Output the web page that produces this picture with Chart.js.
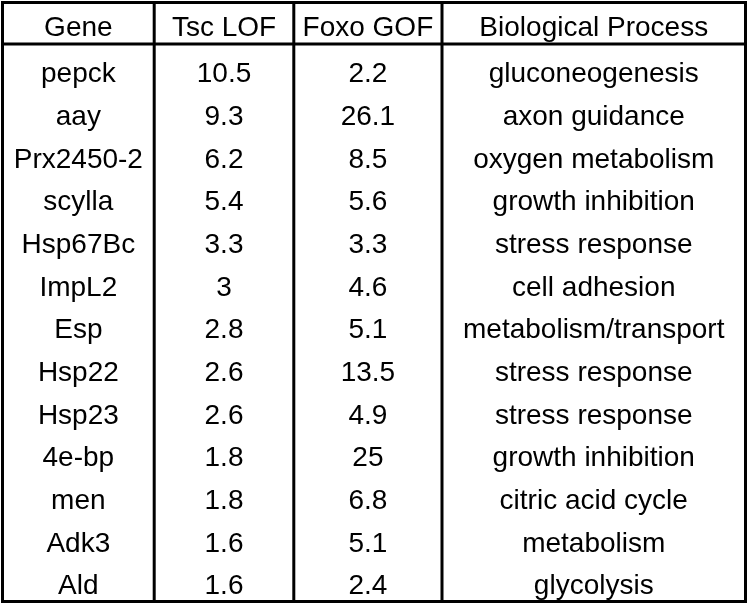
<!DOCTYPE html>
<html>
<head>
<meta charset="utf-8">
<script src="https://cdn.jsdelivr.net/npm/chart.js@4/dist/chart.umd.min.js"></script>
<style>
  html, body { margin: 0; padding: 0; background: #fff; overflow: hidden; }
  canvas { display: block; }
</style>
</head>
<body>
<canvas id="geneTable" width="748" height="604"></canvas>
<script>
// table contents
const headers = ['Gene', 'Tsc LOF', 'Foxo GOF', 'Biological Process'];
const genes = ['pepck', 'aay', 'Prx2450-2', 'scylla', 'Hsp67Bc', 'ImpL2', 'Esp',
    'Hsp22', 'Hsp23', '4e-bp', 'men', 'Adk3', 'Ald'];
const tscLOF = [10.5, 9.3, 6.2, 5.4, 3.3, 3, 2.8, 2.6, 2.6, 1.8, 1.8, 1.6, 1.6];
const foxoGOF = [2.2, 26.1, 8.5, 5.6, 3.3, 4.6, 5.1, 13.5, 4.9, 25, 6.8, 5.1, 2.4];
const processes = ['gluconeogenesis', 'axon guidance', 'oxygen metabolism', 'growth inhibition',
    'stress response', 'cell adhesion', 'metabolism/transport', 'stress response',
    'stress response', 'growth inhibition', 'citric acid cycle', 'metabolism', 'glycolysis'];

// layout: column borders on the x scale, row units on the y scale
const colEdges = [2.5, 154.2, 293.8, 442, 745.5];
const headerRow = -0.09;
const headerLine = 0.33;
const FONT_SIZE = 28;
const FONT = FONT_SIZE + 'px "Liberation Sans", Arial, sans-serif';

const columns = [genes, tscLOF, foxoGOF, processes];
const colCenter = i => (colEdges[i] + colEdges[i + 1]) / 2;

const datasets = columns.map((col, c) => ({
    label: headers[c],
    data: col.map((v, r) => ({ x: colCenter(c), y: r + 1, text: String(v) })),
    pointRadius: 0,
    pointHoverRadius: 0,
}));

// draws the grid lines and the cell texts
const tablePlugin = {
    id: 'tablePlugin',
    afterDatasetsDraw(chart) {
        const { ctx, chartArea, scales } = chart;
        const xs = scales.x, ys = scales.y;
        ctx.save();
        ctx.strokeStyle = '#000';
        ctx.lineWidth = 3;
        const left = xs.getPixelForValue(colEdges[0]);
        const right = xs.getPixelForValue(colEdges[colEdges.length - 1]);
        const top = 2.5, bottom = chartArea.bottom - 2.5;
        ctx.strokeRect(left, top, right - left, bottom - top);
        ctx.beginPath();
        for (let i = 1; i < colEdges.length - 1; i++) {
            const x = xs.getPixelForValue(colEdges[i]);
            ctx.moveTo(x, top);
            ctx.lineTo(x, bottom);
        }
        const hy = ys.getPixelForValue(headerLine);
        ctx.moveTo(left, hy);
        ctx.lineTo(right, hy);
        ctx.stroke();

        ctx.fillStyle = '#000';
        ctx.font = FONT;
        ctx.textAlign = 'center';
        ctx.textBaseline = 'alphabetic';
        const lift = FONT_SIZE * 0.345;
        headers.forEach((h, c) => {
            ctx.fillText(h, xs.getPixelForValue(colCenter(c)), ys.getPixelForValue(headerRow) + lift);
        });
        chart.data.datasets.forEach((ds, c) => {
            const meta = chart.getDatasetMeta(c);
            meta.data.forEach((pt, r) => {
                ctx.fillText(ds.data[r].text, pt.x, pt.y + lift);
            });
        });
        ctx.restore();
    }
};

new Chart(document.getElementById('geneTable').getContext('2d'), {
    type: 'scatter',
    data: { datasets },
    options: {
        responsive: false,
        animation: false,
        events: [],
        layout: { padding: 0 },
        plugins: { legend: { display: false }, tooltip: { enabled: false } },
        scales: {
            x: { type: 'linear', min: 0, max: 748, display: false },
            y: { type: 'linear', min: -0.70, max: 13.45, reverse: true, display: false }
        }
    },
    plugins: [tablePlugin]
});
</script>
</body>
</html>
